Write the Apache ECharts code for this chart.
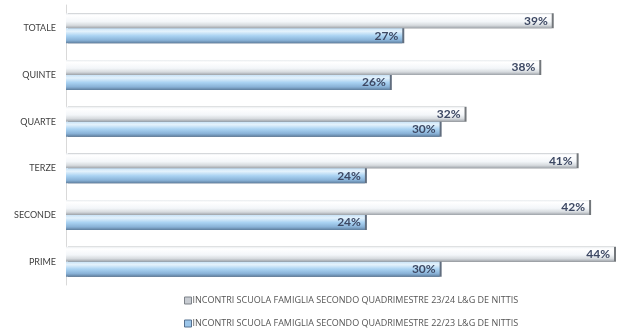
<!DOCTYPE html>
<html>
<head>
<meta charset="utf-8">
<style>
  html, body { margin: 0; padding: 0; background: #ffffff; }
  #chart { width: 621px; height: 336px; }
</style>
<script src="https://cdn.jsdelivr.net/npm/echarts@6/dist/echarts.min.js"></script>
</head>
<body>
<div id="chart"></div>
<script>
// Class groups, listed bottom to top on the category axis
const categories = ['PRIME', 'SECONDE', 'TERZE', 'QUARTE', 'QUINTE', 'TOTALE'];

// Attendance at school-family meetings (%)
const seriesNames = [
  'INCONTRI SCUOLA FAMIGLIA SECONDO QUADRIMESTRE 23/24 L&G DE NITTIS',
  'INCONTRI SCUOLA FAMIGLIA SECONDO QUADRIMESTRE 22/23 L&G DE NITTIS'
];
const values2324 = [44, 42, 41, 32, 38, 39];
const values2223 = [30, 24, 24, 30, 26, 27];

const chart = echarts.init(document.getElementById('chart'));

const silverFill = new echarts.graphic.LinearGradient(0, 0, 0, 1, [
  { offset: 0, color: '#e9ecef' },
  { offset: 0.15, color: '#ffffff' },
  { offset: 0.55, color: '#f3f6f9' },
  { offset: 0.8, color: '#d6dade' },
  { offset: 1, color: '#9da2a8' }
]);
const blueFill = new echarts.graphic.LinearGradient(0, 0, 0, 1, [
  { offset: 0, color: '#c9e3f7' },
  { offset: 0.2, color: '#e4f2fc' },
  { offset: 0.5, color: '#a9d2f2' },
  { offset: 0.8, color: '#88b1d6' },
  { offset: 1, color: '#5e7d9c' }
]);

const labelStyle = {
  show: true,
  position: 'insideRight',
  distance: 4,
  formatter: p => p.value + '%',
  color: '#3d4863',
  fontWeight: 'bold',
  fontSize: 12,
  fontFamily: 'Lato, "Open Sans", sans-serif'
};

chart.setOption({
  animation: false,
  backgroundColor: '#ffffff',
  grid: { left: 66, right: 7, top: 5, bottom: 51, containLabel: false },
  legend: {
    orient: 'vertical',
    left: 179,
    top: 291,
    itemGap: 14,
    itemWidth: 7,
    itemHeight: 7,
    icon: 'rect',
    data: [
      { name: seriesNames[0], itemStyle: { color: '#c8ccd2', borderColor: '#7d8289', borderWidth: 1 } },
      { name: seriesNames[1], itemStyle: { color: '#9cc6ea', borderColor: '#55708f', borderWidth: 1 } }
    ],
    textStyle: {
      color: '#555555',
      fontSize: 9,
      fontFamily: '"Open Sans", Lato, sans-serif',
      padding: [0, 0, 0, -4]
    }
  },
  xAxis: {
    type: 'value',
    min: 0,
    max: 44,
    show: false
  },
  yAxis: {
    type: 'category',
    data: categories,
    axisLine: { show: true, lineStyle: { color: '#d9d9d9', width: 1 } },
    axisTick: { show: false },
    axisLabel: {
      color: '#404040',
      fontSize: 9,
      margin: 10,
      fontFamily: 'Lato, "Open Sans", sans-serif'
    },
    splitLine: { show: false }
  },
  series: [
    {
      name: seriesNames[0],
      type: 'bar',
      data: values2324,
      barWidth: 15,
      barGap: '0%',
      itemStyle: {
        color: silverFill,
        shadowColor: 'rgba(90,95,100,0.85)',
        shadowOffsetX: 2,
        shadowBlur: 0
      },
      label: labelStyle
    },
    {
      name: seriesNames[1],
      type: 'bar',
      data: values2223,
      barWidth: 15,
      barGap: '0%',
      itemStyle: {
        color: blueFill,
        shadowColor: 'rgba(70,85,105,0.85)',
        shadowOffsetX: 2,
        shadowBlur: 0
      },
      label: labelStyle
    }
  ]
});
</script>
</body>
</html>
